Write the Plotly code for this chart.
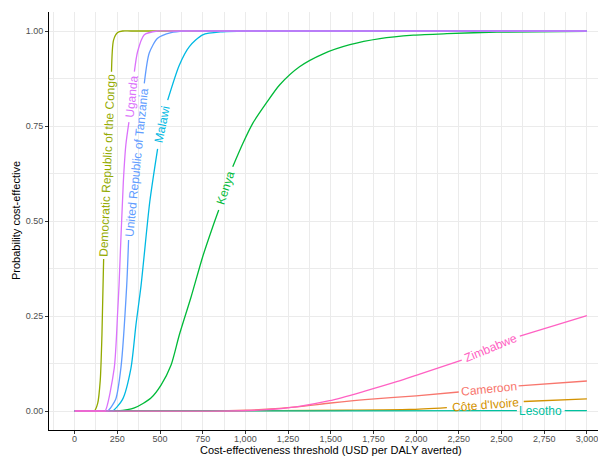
import math
import plotly.graph_objects as go

# Cost-effectiveness acceptability curves
cameroon_wtp = [0, 800, 1000, 1100, 1300, 1500, 1700, 2000, 2250, 2600, 3000]
cameroon_prob = [0, 0, 0.002, 0.004, 0.011, 0.021, 0.030, 0.040, 0.050, 0.066, 0.079]

civ_wtp = [0, 1200, 1600, 1960, 2180, 2630, 3000]
civ_prob = [0, 0.001, 0.002, 0.004, 0.009, 0.025, 0.032]

drc_wtp = [0, 100, 115, 135, 150, 160, 170, 216, 228, 252, 281, 330, 3000]
drc_prob = [0, 0, 0, 0.02, 0.08, 0.2, 0.40, 0.893, 0.976, 0.996, 1.0, 1.0, 1.0]

kenya_wtp = [0, 250, 350, 447, 506, 565, 613, 682, 750, 809, 844, 926, 985, 1043,
             1122, 1200, 1317, 1456, 1612, 1788, 1984, 2180, 2473, 3000]
kenya_prob = [0, 0, 0.008, 0.034, 0.068, 0.121, 0.200, 0.300, 0.406, 0.485, 0.529,
              0.643, 0.704, 0.757, 0.810, 0.858, 0.906, 0.940, 0.964, 0.980, 0.989,
              0.993, 0.997, 0.999]

lesotho_wtp = [0, 1500, 2590, 2870, 3000]
lesotho_prob = [0, 0.0005, 0.001, 0.001, 0.001]

malawi_wtp = [0, 200, 222, 280, 330, 359, 389, 440, 486, 545, 613, 672, 750, 867,
              1000, 1100, 3000]
malawi_prob = [0, 0, 0, 0.03, 0.113, 0.226, 0.33, 0.55, 0.69, 0.818, 0.91, 0.959,
               0.99, 0.998, 1.0, 1.0, 1.0]

tanzania_wtp = [0, 175, 193, 240, 271, 305, 316, 408, 437, 486, 565, 643, 720, 3000]
tanzania_prob = [0, 0, 0, 0.03, 0.113, 0.33, 0.45, 0.862, 0.942, 0.981, 0.996, 1.0,
                 1.0, 1.0]

uganda_wtp = [0, 160, 178, 232, 252, 260, 285, 300, 318, 350, 369, 408, 486, 560, 3000]
uganda_prob = [0, 0, 0, 0.113, 0.26, 0.33, 0.60, 0.70, 0.76, 0.893, 0.946, 0.99, 1.0,
               1.0, 1.0]

zimbabwe_wtp = [0, 900, 1104, 1298, 1493, 1690, 1886, 2021, 2267, 2607, 3000]
zimbabwe_prob = [0, 0, 0.003, 0.011, 0.027, 0.051, 0.077, 0.097, 0.134, 0.197, 0.251]

x_ticks = list(range(0, 3001, 250))
y_ticks = [0, 0.25, 0.5, 0.75, 1.0]

# name, x, y, colour, label gap (x from, x to) -- drawing order as in ggplot
series = [
    ("Cameroon", cameroon_wtp, cameroon_prob, "#F8766D", (2250, 2600)),
    ("Côte d'Ivoire", civ_wtp, civ_prob, "#D39200", (2180, 2630)),
    ("Democratic Republic of the Congo", drc_wtp, drc_prob, "#93AA00", (170, 216)),
    ("Kenya", kenya_wtp, kenya_prob, "#00BA38", (844, 926)),
    ("Lesotho", lesotho_wtp, lesotho_prob, "#00C19F", (2590, 2870)),
    ("Malawi", malawi_wtp, malawi_prob, "#00B9E3", (486, 545)),
    ("United Republic of Tanzania", tanzania_wtp, tanzania_prob, "#619CFF", (316, 408)),
    ("Uganda", uganda_wtp, uganda_prob, "#DB72FB", (318, 350)),
    ("Zimbabwe", zimbabwe_wtp, zimbabwe_prob, "#FF61C3", (2267, 2607)),
]

# body margin is removed in post_script, so the figure fills the window;
# the ggplot panel runs on past the right edge of the window
W, H = 598, 456
ML, MR, MT, MB = 49, 0, 12, 26
x_range = [-150, 3065]
y_range = [-0.05, 1.05]
px_x = (W - ML - MR) / (x_range[1] - x_range[0])
px_y = (H - MT - MB) / (y_range[1] - y_range[0])

font = "Liberation Sans, Arial, sans-serif"
fig = go.Figure()
annotations = []

for name, xs, ys, color, (lo, hi) in series:
    # Line broken where the label sits, like geomtextpath
    seg1 = [(x, y) for x, y in zip(xs, ys) if x <= lo]
    seg2 = [(x, y) for x, y in zip(xs, ys) if x >= hi]
    for seg in (seg1, seg2):
        fig.add_trace(go.Scatter(
            x=[p[0] for p in seg], y=[p[1] for p in seg],
            mode="lines", line=dict(color=color, width=1.3, shape="spline", smoothing=0.7),
            hoverinfo="skip", showlegend=False))
    y_lo = ys[xs.index(lo)]
    y_hi = ys[xs.index(hi)]
    angle = math.degrees(math.atan2((y_hi - y_lo) * px_y, (hi - lo) * px_x))
    annotations.append(dict(
        x=(lo + hi) / 2, y=(y_lo + y_hi) / 2, xref="x", yref="y",
        text=name, showarrow=False, textangle=-angle,
        xanchor="center", yanchor="middle",
        font=dict(family=font, size=12, color=color)))

# Axis titles (x title centred on the full ggplot panel, -150..3150)
annotations.append(dict(
    x=1500, y=0, xref="x", yref="paper", yshift=-20, yanchor="middle",
    text="Cost-effectiveness threshold (USD per DALY averted)", showarrow=False,
    font=dict(family=font, size=11, color="black")))
annotations.append(dict(
    x=0, y=0.5, xref="paper", yref="paper", xshift=-33, xanchor="center",
    text="Probability cost-effective", showarrow=False, textangle=-90,
    font=dict(family=font, size=11, color="black")))

grid = "#EBEBEB"
fig.update_layout(
    template="none",
    width=W, height=H,
    margin=dict(l=ML, r=MR, t=MT, b=MB),
    plot_bgcolor="white", paper_bgcolor="white",
    font=dict(family=font),
    annotations=annotations,
    xaxis=dict(
        range=x_range, tickvals=x_ticks, tickformat=",d", automargin=False,
        ticklabeloverflow="allow", ticklabelstandoff=-3,
        showgrid=True, gridcolor=grid, gridwidth=1,
        minor=dict(dtick=125, tick0=-125, showgrid=True, gridcolor=grid, gridwidth=0.6),
        zeroline=False, showline=True, linecolor="black", linewidth=1,
        ticks="outside", ticklen=3, tickcolor="#333333",
        tickfont=dict(size=9, color="#4D4D4D")),
    yaxis=dict(
        range=y_range, tickvals=y_ticks, tickformat=".2f", automargin=False,
        showgrid=True, gridcolor=grid, gridwidth=1,
        minor=dict(dtick=0.125, tick0=-0.125, showgrid=True, gridcolor=grid, gridwidth=0.6),
        zeroline=False, showline=True, linecolor="black", linewidth=1,
        ticks="outside", ticklen=3, tickcolor="#333333",
        tickfont=dict(size=9, color="#4D4D4D")),
)

fig.write_html("out.html", config={"displayModeBar": False},
               post_script="document.body.style.margin = '0';")
